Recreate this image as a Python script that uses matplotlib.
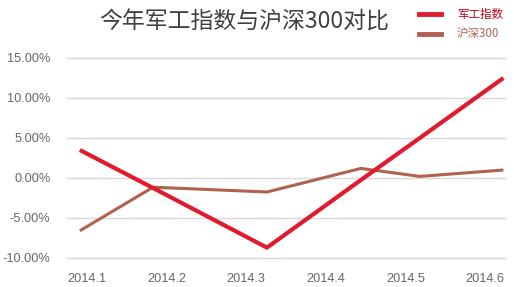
import matplotlib
matplotlib.use("Agg")
import matplotlib.pyplot as plt
from matplotlib.lines import Line2D

plt.rcParams['font.family'] = ['Liberation Sans', 'Noto Sans CJK SC', 'DejaVu Sans']

# positions in month units (tick labels sit on 1..6)
x_pos = [0.91, 1.83, 3.26, 4.44, 5.18, 6.23]
military = [3.5, -1.25, -8.7, -0.25, 5.0, 12.5]
hs300 = [-6.6, -1.15, -1.75, 1.2, 0.2, 1.0]
month_ticks = [1, 2, 3, 4, 5, 6]
month_labels = ['2014.1', '2014.2', '2014.3', '2014.4', '2014.5', '2014.6']
y_ticks = [-10, -5, 0, 5, 10, 15]

red = '#e01b2f'
brown = '#b0624f'

fig = plt.figure(figsize=(5.14, 2.87), dpi=100)
ax = fig.add_axes([67/514, 1-258/287, (505-67)/514, 200/287])

ax.plot(x_pos, hs300, color=brown, linewidth=2.2, solid_capstyle='butt', zorder=3)
ax.plot(x_pos, military, color=red, linewidth=3.0, solid_capstyle='butt', zorder=4)

ax.set_xlim(0.749, 6.25)
ax.set_ylim(-10, 15)
ax.set_yticks(y_ticks)
ax.set_yticklabels(['{:.2f}%'.format(v) for v in y_ticks])
ax.set_xticks(month_ticks)
ax.set_xticklabels(month_labels)
for v in y_ticks:
    ax.axhline(v, color='#d9d9d9', linewidth=1, zorder=1, clip_on=False)
for s in ax.spines.values():
    s.set_visible(False)
ax.tick_params(axis='both', length=0, colors='#666666', labelsize=9.2)
ax.tick_params(axis='y', pad=12)
ax.tick_params(axis='x', pad=10.5)

fig.text(244/514, 1-22/287, '今年军工指数与沪深300对比', ha='center', va='center',
         fontsize=16.5, color='#404040', family=['Noto Sans CJK SC', 'DejaVu Sans'])

# legend
for yy, col, lw, label, tcol in [(14, red, 3.5, '军工指数', '#c00018'),
                                 (34, brown, 3.5, '沪深300', brown)]:
    fig.add_artist(Line2D([419/514, 441/514], [1-yy/287, 1-yy/287], color=col, linewidth=lw))
    fig.text(457/514, 1-yy/287, label, ha='left', va='center', fontsize=8.3, color=tcol,
             family=['Noto Sans CJK SC', 'DejaVu Sans'])

fig.savefig('out.png', dpi=100)
